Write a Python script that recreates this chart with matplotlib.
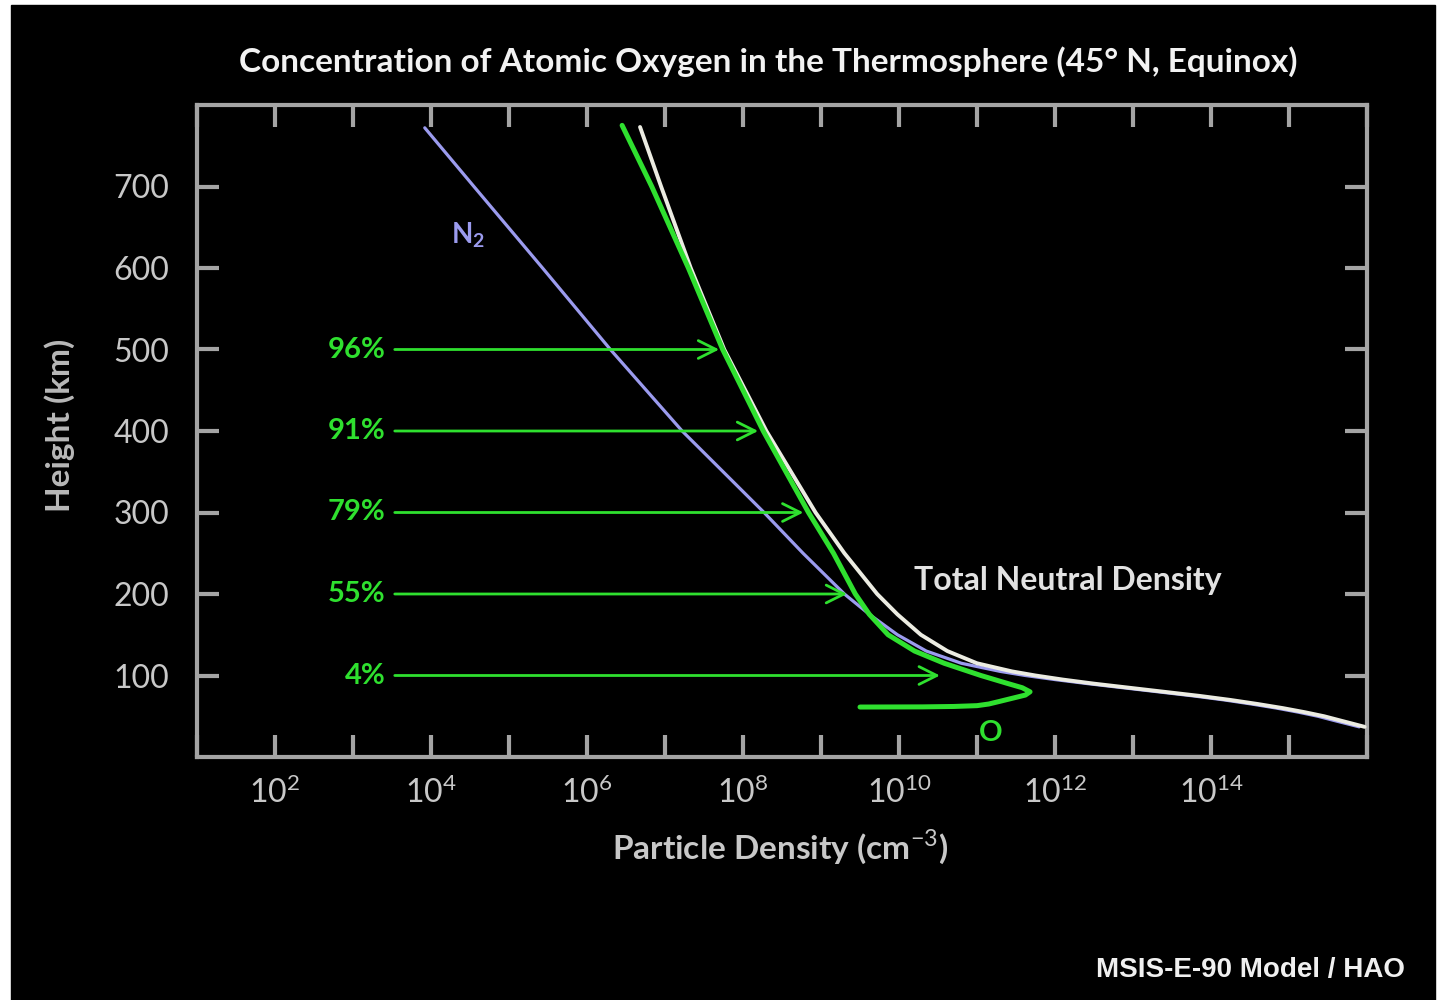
import numpy as np
import matplotlib.pyplot as plt
from matplotlib.patches import Rectangle

# values (height in km, log10 density in cm^-3)
total_h = [773, 700, 600, 500, 400, 300, 250, 200, 175, 150, 130, 115, 105, 100, 95, 90, 85, 80, 75, 70, 65, 60, 55, 50, 45, 37]
total_log = [6.68, 6.95, 7.33, 7.76, 8.30, 8.93, 9.30, 9.72, 9.98, 10.28, 10.62, 11.0, 11.45, 11.75,
             12.1, 12.5, 12.95, 13.4, 13.85, 14.25, 14.6, 14.92, 15.2, 15.45, 15.65, 15.97]

n2_h = [772, 700, 600, 500, 400, 300, 250, 200, 175, 150, 130, 115, 105, 100, 95, 90, 85, 80, 75, 70, 65, 60, 55, 50, 45, 37]
n2_log = [3.92, 4.55, 5.43, 6.30, 7.22, 8.27, 8.77, 9.30, 9.62, 9.98, 10.35, 10.8, 11.3, 11.62,
          12.0, 12.42, 12.87, 13.32, 13.77, 14.17, 14.52, 14.84, 15.12, 15.37, 15.57, 15.9]

o_h = [775, 700, 600, 500, 400, 300, 250, 200, 175, 150, 130, 115, 100, 90, 85, 80, 76, 72, 68, 65, 63, 62, 61.5, 61.3]
o_log = [6.45, 6.83, 7.30, 7.74, 8.26, 8.84, 9.16, 9.44, 9.62, 9.86, 10.2, 10.58, 11.05, 11.4,
         11.58, 11.68, 11.62, 11.45, 11.28, 11.15, 11.0, 10.7, 10.3, 9.5]

pct_labels = ['96%', '91%', '79%', '55%', '4%']
pct_h = [500, 400, 300, 200, 100]
pct_tip_log = [7.73, 8.23, 8.81, 9.37, 10.56]
arrow_start_log = 3.5

x_ticks = list(range(1, 17))
x_labelled = [2, 4, 6, 8, 10, 12, 14]
y_ticks = [100, 200, 300, 400, 500, 600, 700]

green = '#2fe02f'
lav = '#9b9bee'
white = '#ecece2'
grey = '#a4a4a4'
txt = '#c8c8c8'

plt.rcParams['font.family'] = ['Lato', 'DejaVu Sans']
plt.rcParams['mathtext.fontset'] = 'custom'
plt.rcParams['mathtext.rm'] = 'Lato'
plt.rcParams['mathtext.bf'] = 'Lato:bold'

fig = plt.figure(figsize=(14.45, 10), dpi=100, facecolor='white')
fig.patches.append(Rectangle((11/1445, 0), (1435-11)/1445, 995/1000,
                             transform=fig.transFigure, color='black', zorder=-5))

ax = fig.add_axes([197/1445, 243/1000, (1367-197)/1445, (757-105)/1000])
ax.set_facecolor('black')
ax.set_xscale('log')
ax.set_xlim(1e1, 1e16)
ax.set_ylim(0, 800)

ax.plot(10**np.array(n2_log), n2_h, color=lav, lw=2.3, solid_capstyle='round',
        solid_joinstyle='round', zorder=3)
ax.plot(10**np.array(total_log), total_h, color=white, lw=2.8, solid_capstyle='round',
        solid_joinstyle='round', zorder=4)
ax.plot(10**np.array(o_log), o_h, color=green, lw=3.6, solid_capstyle='round',
        solid_joinstyle='round', zorder=5)

for lab, h, tip in zip(pct_labels, pct_h, pct_tip_log):
    ax.annotate('', xy=(10**tip, h), xytext=(10**arrow_start_log, h),
                arrowprops=dict(arrowstyle='->', color=green, lw=2.0, mutation_scale=32))
    ax.text(10**3.42, h, lab, color=green, fontsize=21, fontweight='bold',
            ha='right', va='center')

ax.text(10**4.47, 640, r'$\mathbf{N_2}$', color=lav, fontsize=20, ha='center', va='center')
ax.text(10**12.17, 216, 'Total Neutral Density', color='#e2e2e2', fontsize=23,
        fontweight='bold', ha='center', va='center')
ax.text(10**11.18, 29, 'O', color=green, fontsize=21, fontweight='bold', ha='center', va='center')

for s in ax.spines.values():
    s.set_color(grey)
    s.set_linewidth(3)

ax.set_xticks([10.0**k for k in x_ticks])
ax.set_xticklabels([r'$\mathregular{10^{%d}}$' % k if k in x_labelled else '' for k in x_ticks])
ax.xaxis.set_minor_locator(plt.NullLocator())
ax.set_yticks(y_ticks)
ax.tick_params(axis='both', which='major', direction='in', length=16, width=3,
               color=grey, labelcolor=txt, labelsize=23, top=True, right=True)
ax.tick_params(axis='x', pad=14)
ax.tick_params(axis='y', pad=20)

fig.text(768/1445, 1 - 62/1000, 'Concentration of Atomic Oxygen in the Thermosphere (45° N, Equinox)',
         color='#f2f2f2', fontsize=24, fontweight='bold', ha='center', va='center')
fig.text(780/1445, 1 - 847/1000, 'Particle Density (cm$^{-3}$)', color=txt, fontsize=24,
         fontweight='bold', ha='center', va='center')
fig.text(60/1445, 1 - 425/1000, 'Height (km)', color='#b8b8b8', fontsize=24,
         fontweight='bold', ha='center', va='center', rotation=90)
fig.text(1405/1445, 1 - 970/1000, 'MSIS-E-90 Model / HAO', color='#f0f0f0', fontsize=20,
         fontweight='bold', ha='right', va='center', family='Liberation Sans')

fig.savefig('out.png', dpi=100, facecolor=fig.get_facecolor())
